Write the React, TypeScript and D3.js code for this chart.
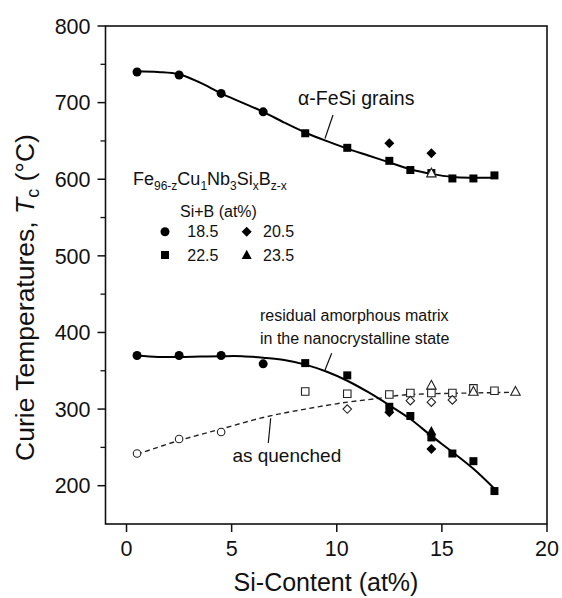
import React from 'react';
import * as d3 from 'd3';

const W = 562;
const H = 598;

const X_DOMAIN = [-1, 20];
const Y_DOMAIN = [150, 800];
const xTicks = [0, 5, 10, 15, 20];
const yTicks = [200, 300, 400, 500, 600, 700, 800];
const yMinorTicks = [250, 350, 450, 550, 650, 750];

// α-FeSi grains (filled symbols)
const fesiCircleX = [0.5, 2.5, 4.5, 6.5];
const fesiCircleY = [740, 736, 712, 688];
const fesiSquareX = [8.5, 10.5, 12.5, 13.5, 14.5, 15.5, 16.5, 17.5];
const fesiSquareY = [660, 641, 624, 612, 608, 601, 601, 605];
const fesiDiamondX = [12.5, 14.5];
const fesiDiamondY = [647, 634];
const fesiTriangleX = [14.5];
const fesiTriangleY = [608];
const fesiFitX = [0.5, 1.5, 2.5, 3.5, 4.5, 5.5, 6.5, 7.5, 8.5, 9.5, 10.5, 11.5, 12.5, 13.5, 14.5, 15.5, 16.5, 17.5];
const fesiFitY = [741, 740, 737, 726, 712, 700, 688, 674, 661, 650, 640, 631, 622, 613, 607, 603, 602, 602];

// residual amorphous matrix, nanocrystalline state (filled symbols)
const amCircleX = [0.5, 2.5, 4.5, 6.5];
const amCircleY = [370, 370, 370, 359];
const amSquareX = [8.5, 10.5, 12.5, 13.5, 14.5, 15.5, 16.5, 17.5];
const amSquareY = [360, 344, 303, 291, 263, 242, 232, 193];
const amDiamondX = [12.5, 14.5];
const amDiamondY = [296, 248];
const amTriangleX = [14.5];
const amTriangleY = [271];
const amFitX = [0.5, 1.5, 2.5, 3.5, 4.5, 5.5, 6.5, 7.5, 8.5, 9.5, 10.5, 11.5, 12.5, 13.5, 14.5, 15.5, 16.5, 17.5];
const amFitY = [370, 368, 368, 368.5, 369, 369, 367, 364, 358, 349, 337, 322, 305, 287, 265, 244, 222, 196];

// as quenched (open symbols)
const aqCircleX = [0.5, 2.5, 4.5];
const aqCircleY = [242, 261, 270];
const aqSquareX = [8.5, 10.5, 12.5, 13.5, 14.5, 15.5, 16.5, 17.5];
const aqSquareY = [323, 320, 319, 321, 321, 321, 327, 324];
const aqDiamondX = [10.5, 13.5, 14.5, 15.5];
const aqDiamondY = [300, 311, 309, 312];
const aqTriangleX = [14.5, 16.5, 18.5];
const aqTriangleY = [331, 323, 323];
const aqFitX = [0.5, 2.5, 4.5, 6.5, 8.5, 10.5, 12, 13, 14.5, 16.5, 18.5];
const aqFitY = [241, 259, 274, 289, 300, 309, 314, 318, 320, 321, 322];

const legendLabels = ['18.5', '20.5', '22.5', '23.5'];

const FONT = "'Liberation Sans', Arial, Helvetica, sans-serif";

const pts = (xs: number[], ys: number[]) => xs.map((x, i) => [x, ys[i]] as [number, number]);

function markerPath(kind: string, s: number) {
  if (kind === 'circle') {
    const r = s / 2;
    return `M${-r},0A${r},${r} 0 1,0 ${r},0A${r},${r} 0 1,0 ${-r},0Z`;
  }
  if (kind === 'square') {
    const h = s / 2;
    return `M${-h},${-h}H${h}V${h}H${-h}Z`;
  }
  if (kind === 'diamond') {
    const h = s / 2;
    return `M0,${-h}L${h},0L0,${h}L${-h},0Z`;
  }
  const h = s / 2;
  return `M0,${-h * 1.05}L${h},${h * 0.8}L${-h},${h * 0.8}Z`;
}

const Marker = ({ kind, x, y, s, open, fill }: any) => (
  <path
    d={markerPath(kind, s)}
    transform={`translate(${x},${y})`}
    fill={open ? '#fff' : fill || '#000'}
    stroke={open ? '#222' : 'none'}
    strokeWidth={open ? 1.1 : 0}
  />
);

export default function App() {
  const left = 105.5, right = 547, top = 26, bottom = 524;
  const x = d3.scaleLinear().domain(X_DOMAIN).range([left, right]);
  const y = d3.scaleLinear().domain(Y_DOMAIN).range([bottom, top]);
  const line = d3.line<[number, number]>().x(d => x(d[0])).y(d => y(d[1])).curve(d3.curveCatmullRom.alpha(0.5));

  const filledSizes: any = { circle: 9, square: 8, diamond: 10, triangle: 10 };
  const openSizes: any = { circle: 7.5, square: 7.5, diamond: 8.5, triangle: 9.5 };

  const drawSet = (kind: string, xs: number[], ys: number[], open: boolean, key: string, fill?: string) =>
    pts(xs, ys).map((p, i) => (
      <Marker key={key + i} kind={kind} x={x(p[0])} y={y(p[1])} s={open ? openSizes[kind] : filledSizes[kind]} open={open} fill={fill} />
    ));

  return (
    <svg width={W} height={H} style={{ position: 'absolute', left: 0, top: 0, background: '#fff' }} fontFamily={FONT}>
      <rect x={0} y={0} width={W} height={H} fill="#fff" />
      <path d={line(pts(aqFitX, aqFitY)) || ''} fill="none" stroke="#222" strokeWidth={1.4} strokeDasharray="5,3.5" />
      <path d={line(pts(fesiFitX, fesiFitY)) || ''} fill="none" stroke="#000" strokeWidth={2} />
      <path d={line(pts(amFitX, amFitY)) || ''} fill="none" stroke="#000" strokeWidth={2} />

      {drawSet('circle', aqCircleX, aqCircleY, true, 'aqc')}
      {drawSet('square', aqSquareX, aqSquareY, true, 'aqs')}
      {drawSet('diamond', aqDiamondX, aqDiamondY, true, 'aqd')}
      {drawSet('triangle', aqTriangleX, aqTriangleY, true, 'aqt')}

      {drawSet('circle', fesiCircleX, fesiCircleY, false, 'fc')}
      {drawSet('square', fesiSquareX, fesiSquareY, false, 'fs', '#000')}
      {drawSet('diamond', fesiDiamondX, fesiDiamondY, false, 'fd')}
      {drawSet('triangle', fesiTriangleX, fesiTriangleY, true, 'ft')}

      {drawSet('circle', amCircleX, amCircleY, false, 'ac')}
      {drawSet('triangle', amTriangleX, amTriangleY, false, 'at')}
      {drawSet('square', amSquareX, amSquareY, false, 'as')}
      {drawSet('diamond', amDiamondX, amDiamondY, false, 'ad')}

      <rect x={left} y={top} width={right - left} height={bottom - top} fill="none" stroke="#111" strokeWidth={1.6} />

      {yTicks.map(t => (
        <g key={'yt' + t}>
          <line x1={left - 8} x2={left} y1={y(t)} y2={y(t)} stroke="#111" strokeWidth={1.5} />
          <text x={left - 15} y={y(t)} dy="0.36em" textAnchor="end" fontSize={21.5} fill="#111">{t}</text>
        </g>
      ))}
      {yMinorTicks.map(t => (
        <line key={'ym' + t} x1={left - 5} x2={left} y1={y(t)} y2={y(t)} stroke="#111" strokeWidth={1.3} />
      ))}
      {xTicks.map(t => (
        <g key={'xt' + t}>
          <line x1={x(t)} x2={x(t)} y1={bottom} y2={bottom + 8} stroke="#111" strokeWidth={1.5} />
          <text x={x(t)} y={556} textAnchor="middle" fontSize={21.5} fill="#111">{t}</text>
        </g>
      ))}

      <text x={326} y={591} textAnchor="middle" fontSize={25} fill="#111">Si-Content (at%)</text>
      <text transform="translate(34,297.5) rotate(-90)" textAnchor="middle" fontSize={26.5} fill="#111">
        Curie Temperatures, <tspan fontStyle="italic">T</tspan><tspan fontSize={18} dy={5}>c</tspan><tspan dy={-5}> (°C)</tspan>
      </text>

      <text x={298} y={105} fontSize={19.5} fill="#111">α-FeSi grains</text>
      <line x1={333} y1={115} x2={325} y2={138.5} stroke="#111" strokeWidth={1.2} />

      <text x={260} y={320.7} fontSize={16} fill="#111">residual amorphous matrix</text>
      <text x={260} y={344} fontSize={16} fill="#111">in the nanocrystalline state</text>
      <line x1={331.7} y1={353.3} x2={325} y2={370} stroke="#111" strokeWidth={1.2} />

      <text x={232.4} y={461.7} fontSize={19} fill="#111">as quenched</text>
      <line x1={270.7} y1={418.3} x2={268.3} y2={443} stroke="#111" strokeWidth={1.2} />

      <text x={133} y={185} fontSize={18} fill="#111">
        Fe<tspan fontSize={12} dy={5}>96-z</tspan>
        <tspan dy={-5}>Cu</tspan><tspan fontSize={12} dy={5}>1</tspan>
        <tspan dy={-5}>Nb</tspan><tspan fontSize={12} dy={5}>3</tspan>
        <tspan dy={-5}>Si</tspan><tspan fontSize={12} dy={5}>x</tspan>
        <tspan dy={-5}>B</tspan><tspan fontSize={12} dy={5}>z-x</tspan>
      </text>
      <text x={180} y={216.7} fontSize={16} fill="#111">Si+B (at%)</text>
      <Marker kind="circle" x={165} y={231.7} s={9} />
      <text x={187.3} y={231.7} dy="0.36em" fontSize={16} fill="#111">{legendLabels[0]}</text>
      <Marker kind="diamond" x={246.7} y={231.7} s={10} />
      <text x={263} y={231.7} dy="0.36em" fontSize={16} fill="#111">{legendLabels[1]}</text>
      <Marker kind="square" x={165} y={255} s={8} />
      <text x={187.3} y={255} dy="0.36em" fontSize={16} fill="#111">{legendLabels[2]}</text>
      <Marker kind="triangle" x={246.7} y={255} s={10} />
      <text x={263} y={255} dy="0.36em" fontSize={16} fill="#111">{legendLabels[3]}</text>
    </svg>
  );
}
